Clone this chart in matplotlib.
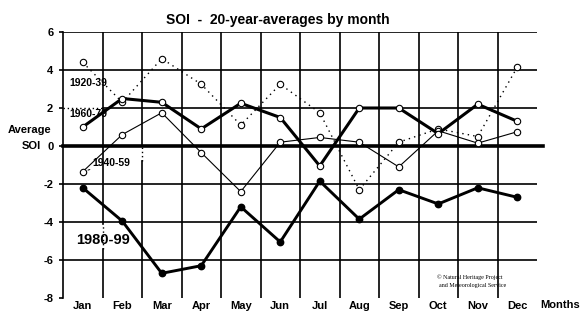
import matplotlib
matplotlib.use("Agg")
import matplotlib.pyplot as plt
import numpy as np

months = ["Jan", "Feb", "Mar", "Apr", "May", "Jun", "Jul", "Aug", "Sep", "Oct", "Nov", "Dec"]
soi_1920_39 = [4.4, 2.3, 4.6, 3.25, 1.1, 3.25, 1.75, -2.3, 0.2, 0.9, 0.5, 4.15]
soi_1940_59 = [-1.35, 0.6, 1.75, -0.35, -2.4, 0.2, 0.45, 0.2, -1.1, 0.8, 0.15, 0.75]
soi_1960_79 = [1.0, 2.5, 2.3, 0.9, 2.25, 1.5, -1.05, 2.0, 2.0, 0.65, 2.2, 1.3]
soi_1980_99 = [-2.2, -3.95, -6.7, -6.3, -3.2, -5.05, -1.85, -3.85, -2.3, -3.05, -2.2, -2.7]
yticks = [6, 4, 2, 0, -2, -4, -6, -8]

plt.rcParams['font.family'] = ['Liberation Sans', 'DejaVu Sans']

fig = plt.figure(figsize=(5.86, 3.22), dpi=100)
ax = fig.add_axes([63/586, 1-298/322, (537-63)/586, (298-32)/322])
x = np.arange(len(months))

ax.set_xlim(-0.5, 11.5)
ax.set_ylim(-8, 6)

# grid (segments behind label boxes appear dotted, as in the original)
dotted_v = {0.5: (-5.4, -4.1), 1.5: (-0.8, 0.0)}
for xv in np.arange(0.5, 11, 1.0):
    if xv in dotted_v:
        lo, hi = dotted_v[xv]
        ax.plot([xv, xv], [-8, lo], color='black', lw=1.2, zorder=1)
        ax.plot([xv, xv], [lo, hi], color='black', lw=1.0, ls=(0, (1, 2)), zorder=1)
        ax.plot([xv, xv], [hi, 6], color='black', lw=1.2, zorder=1)
    else:
        ax.axvline(xv, color='black', lw=1.2, zorder=1)
for yv in [6, 4, -2, -4, -6]:
    ax.axhline(yv, color='black', lw=1.2, zorder=1)
ax.plot([-0.5, 0.5], [2, 2], color='black', lw=1.0, ls=(0, (1, 2)), zorder=1)
ax.plot([0.5, 11.5], [2, 2], color='black', lw=1.2, zorder=1)
ax.plot([-0.5, 11.65], [0, 0], color='black', lw=2.6, zorder=2, clip_on=False)

ax.plot(x, soi_1920_39, color='black', lw=1.0, ls=(0, (1, 3)), marker='o', ms=4.6,
        mfc='white', mec='black', mew=0.8, zorder=4)
ax.plot(x, soi_1940_59, color='black', lw=0.8, ls='-', marker='o', ms=4.6,
        mfc='white', mec='black', mew=0.8, zorder=4)
ax.plot(x, soi_1960_79, color='black', lw=2.2, ls='-', marker='o', ms=4.6,
        mfc='white', mec='black', mew=0.8, zorder=5)
ax.plot(x, soi_1980_99, color='black', lw=2.1, ls='-', marker='o', ms=4.6,
        mfc='black', mec='black', zorder=5)

for s in ['top', 'right', 'bottom']:
    ax.spines[s].set_visible(False)
ax.spines['left'].set_linewidth(1.2)

ax.set_yticks(yticks)
ax.set_yticklabels([str(v) for v in yticks], fontsize=8, fontweight='bold')
ax.tick_params(axis='y', length=3, width=1.2, pad=4, direction='out')
ax.set_xticks(x)
ax.set_xticklabels(months, fontsize=8, fontweight='bold')
ax.tick_params(axis='x', length=0, pad=2)

fig.text(560/586, 1-305/322, "Months", fontsize=8, fontweight='bold', ha='center', va='center')
fig.text(30/586, 1-130/322, "Average", fontsize=8, fontweight='bold', ha='center', va='center')
fig.text(31/586, 1-146/322, "SOI", fontsize=8, fontweight='bold', ha='center', va='center')
fig.text(278/586, 1-20/322, "SOI  -  20-year-averages by month", fontsize=10, fontweight='bold',
         ha='center', va='center')

# series labels
ax.text(-0.35, 3.3, "1920-39", fontsize=7.5, fontweight='bold', ha='left', va='center', zorder=6)
ax.text(-0.35, 1.7, "1960-79", fontsize=7.5, fontweight='bold', ha='left', va='center', zorder=6)
ax.annotate("1940-59", xy=(0, soi_1940_59[0]), xytext=(0.25, -0.9), fontsize=7.5, fontweight='bold',
            ha='left', va='center', zorder=6,
            arrowprops=dict(arrowstyle='-', lw=0.7, ls=(0, (2, 1.5)), color='black',
                            shrinkA=0, shrinkB=3))
ax.text(-0.18, -4.95, "1980-99", fontsize=10.5, fontweight='bold', ha='left', va='center', zorder=6)

fig.text(470/586, 1-281/322, "\u00a9 Natural Heritage Project\n    and Meteorological Service",
         fontsize=4.3, family=['Liberation Serif', 'DejaVu Serif'], ha='center', va='center',
         linespacing=1.6)

fig.savefig("out.png", dpi=100)
